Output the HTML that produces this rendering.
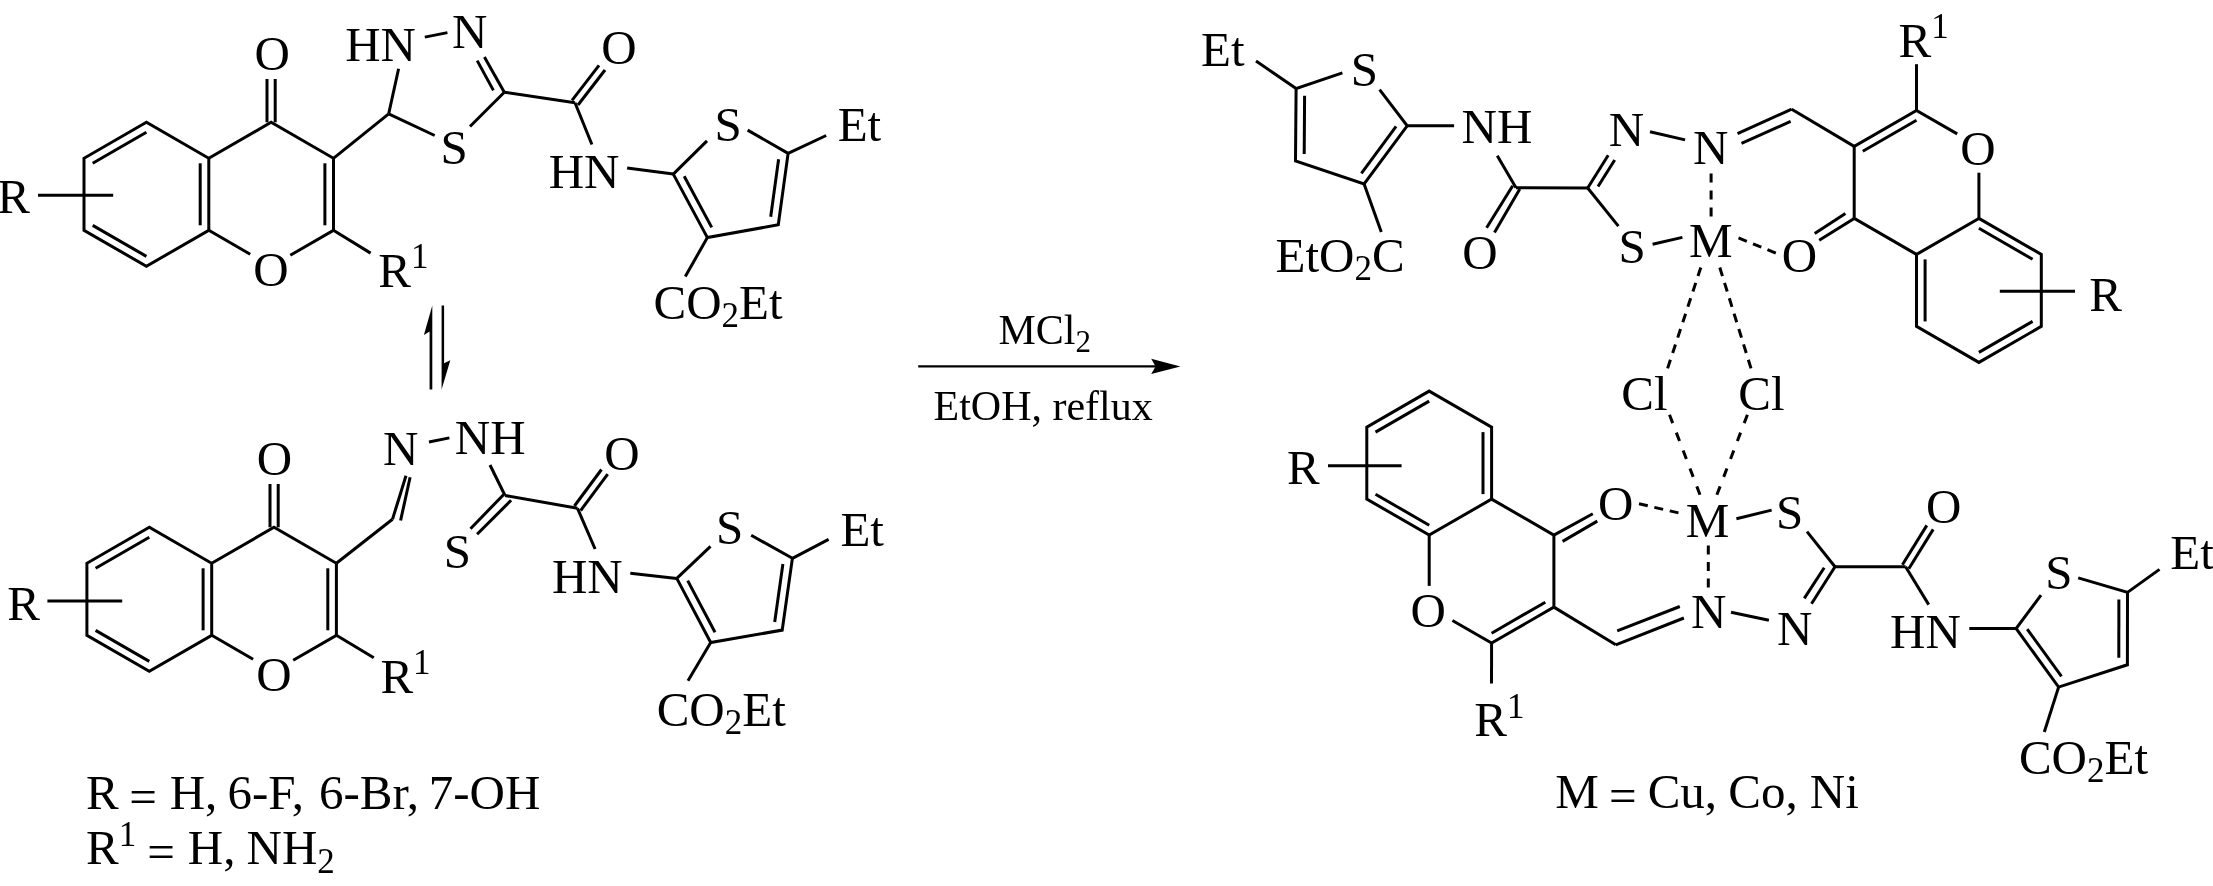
<!DOCTYPE html>
<html><head><meta charset="utf-8"><style>
html,body{margin:0;padding:0;background:#fff;width:2213px;height:886px;overflow:hidden}
svg{position:absolute;left:0;top:0;will-change:transform}
#w{position:absolute;left:0;top:0;width:2213px;height:886px;}
</style></head><body><div id="w">
<svg width="2213" height="886" viewBox="0 0 2213 886">
<g stroke="#000" stroke-width="3.0" fill="none" stroke-linejoin="miter" stroke-linecap="butt">
<path d="M146.4 122.3 L84.0 158.3 L84.0 230.3 L146.4 266.3 L208.8 230.3 L208.8 158.3 L146.4 122.3 Z"/>
<line x1="92.7" y1="163.2" x2="146.4" y2="132.2"/>
<line x1="92.7" y1="225.4" x2="146.4" y2="256.4"/>
<line x1="200.2" y1="163.3" x2="200.2" y2="225.3"/>
<path d="M208.8 158.3 L271.1 122.3 L333.5 158.3 L333.5 230.3 L290.3 255.2"/>
<line x1="208.8" y1="230.3" x2="250.2" y2="254.2"/>
<line x1="324.9" y1="163.3" x2="324.9" y2="225.3"/>
<line x1="38.0" y1="195.3" x2="113.2" y2="195.3"/>
<line x1="267.0" y1="79.0" x2="267.0" y2="122.3"/>
<line x1="275.2" y1="79.0" x2="275.2" y2="122.3"/>
<line x1="333.4" y1="158.3" x2="388.7" y2="113.8"/>
<line x1="388.7" y1="113.8" x2="398.6" y2="68.7"/>
<line x1="388.7" y1="113.8" x2="434.7" y2="135.5"/>
<line x1="333.4" y1="230.3" x2="370.6" y2="253.1"/>
<line x1="424.8" y1="37.1" x2="447.4" y2="32.6"/>
<line x1="484.4" y1="57.0" x2="504.3" y2="92.2"/>
<line x1="477.2" y1="60.6" x2="493.4" y2="90.4"/>
<line x1="504.3" y1="92.2" x2="470.0" y2="126.5"/>
<line x1="504.3" y1="92.2" x2="575.0" y2="102.7"/>
<line x1="578.0" y1="105.0" x2="605.0" y2="70.0"/>
<line x1="572.0" y1="100.4" x2="599.0" y2="65.4"/>
<line x1="575.0" y1="102.7" x2="591.9" y2="144.5"/>
<line x1="627.1" y1="168.0" x2="673.3" y2="174.1"/>
<path d="M707.0 140.9 L673.3 174.1 L707.4 237.6 L778.3 224.8 L788.1 153.4 L747.6 130.1"/>
<line x1="684.2" y1="176.2" x2="711.7" y2="227.4"/>
<line x1="770.7" y1="216.7" x2="778.6" y2="159.2"/>
<line x1="788.1" y1="153.4" x2="826.2" y2="135.5"/>
<line x1="707.4" y1="237.6" x2="685.3" y2="276.4"/>
<polygon points="432.3,305.5 432.3,389.4 429.6,389.4 429.6,331.6 423.9,335.0" fill="#000" stroke="none"/>
<polygon points="441.6,305.5 444.1,305.5 444.1,363.3 450.3,360.2 441.6,389.4" fill="#000" stroke="none"/>
<path d="M149.3 527.3 L86.9 563.3 L86.9 635.3 L149.3 671.3 L211.7 635.3 L211.7 563.3 L149.3 527.3 Z"/>
<line x1="95.6" y1="568.2" x2="149.3" y2="537.2"/>
<line x1="95.6" y1="630.4" x2="149.3" y2="661.4"/>
<line x1="203.1" y1="568.3" x2="203.1" y2="630.3"/>
<path d="M211.7 563.3 L274.0 527.3 L336.4 563.3 L336.4 635.3 L293.2 660.2"/>
<line x1="211.7" y1="635.3" x2="253.1" y2="659.2"/>
<line x1="327.8" y1="568.3" x2="327.8" y2="630.3"/>
<line x1="47.4" y1="601.1" x2="122.2" y2="601.1"/>
<line x1="270.0" y1="484.0" x2="270.0" y2="527.3"/>
<line x1="278.2" y1="484.0" x2="278.2" y2="527.3"/>
<line x1="336.4" y1="635.3" x2="373.8" y2="657.8"/>
<line x1="336.4" y1="563.3" x2="392.5" y2="519.2"/>
<line x1="392.5" y1="519.2" x2="406.0" y2="475.8"/>
<line x1="400.6" y1="520.5" x2="410.1" y2="477.2"/>
<line x1="429.0" y1="442.0" x2="449.4" y2="437.9"/>
<line x1="490.0" y1="465.0" x2="505.0" y2="495.5"/>
<line x1="503.5" y1="494.7" x2="470.5" y2="528.7"/>
<line x1="511.1" y1="500.3" x2="477.1" y2="534.3"/>
<line x1="505.0" y1="495.5" x2="577.5" y2="508.3"/>
<line x1="580.6" y1="510.6" x2="607.7" y2="474.1"/>
<line x1="574.4" y1="506.0" x2="601.5" y2="469.5"/>
<line x1="577.5" y1="508.3" x2="595.1" y2="549.0"/>
<line x1="630.3" y1="573.3" x2="676.8" y2="578.4"/>
<path d="M710.5 546.3 L676.8 578.4 L710.7 642.5 L782.2 630.1 L792.4 558.3 L751.2 535.3"/>
<line x1="687.7" y1="580.6" x2="715.0" y2="632.3"/>
<line x1="774.7" y1="622.0" x2="782.9" y2="564.0"/>
<line x1="792.4" y1="558.3" x2="828.6" y2="539.4"/>
<line x1="710.7" y1="642.5" x2="688.0" y2="680.7"/>
<line x1="918.2" y1="366.4" x2="1157.0" y2="366.4" stroke-width="2.4"/>
<polygon points="1180.4,366.4 1151.2,358.8 1155.6,366.4 1151.2,374.0" fill="#000" stroke="none"/>
<line x1="1256.0" y1="61.0" x2="1296.1" y2="88.6"/>
<path d="M1379.6 89.7 L1407.2 125.8 L1364.1 184.0 L1295.5 161.0 L1296.1 88.6 L1342.4 72.8"/>
<line x1="1396.1" y1="126.3" x2="1361.4" y2="173.3"/>
<line x1="1304.2" y1="154.1" x2="1304.6" y2="95.7"/>
<line x1="1407.2" y1="125.8" x2="1454.1" y2="125.8"/>
<line x1="1364.1" y1="184.0" x2="1381.3" y2="232.0"/>
<line x1="1497.3" y1="155.8" x2="1516.0" y2="187.7"/>
<line x1="1512.7" y1="185.8" x2="1486.6" y2="227.7"/>
<line x1="1519.8" y1="189.0" x2="1494.5" y2="232.4"/>
<line x1="1516.0" y1="187.7" x2="1587.7" y2="188.0"/>
<line x1="1587.7" y1="188.0" x2="1608.2" y2="155.3"/>
<line x1="1598.0" y1="186.5" x2="1614.7" y2="160.0"/>
<line x1="1587.7" y1="188.0" x2="1618.4" y2="226.1"/>
<line x1="1652.6" y1="244.2" x2="1682.4" y2="237.4"/>
<line x1="1650.0" y1="131.8" x2="1685.1" y2="139.9"/>
<line x1="1711.1" y1="173.5" x2="1711.1" y2="216.4" stroke-dasharray="9.00 7.95"/>
<line x1="1737.5" y1="133.6" x2="1791.7" y2="109.2"/>
<line x1="1741.5" y1="143.4" x2="1790.6" y2="121.4"/>
<line x1="1791.7" y1="109.2" x2="1854.2" y2="146.4"/>
<path d="M1916.5 254.4 L1854.2 218.4 L1854.2 146.4 L1916.5 110.4 L1957.2 133.9"/>
<line x1="1978.9" y1="218.4" x2="1978.9" y2="172.7"/>
<line x1="1862.8" y1="151.3" x2="1916.5" y2="120.3"/>
<line x1="1916.5" y1="110.4" x2="1916.5" y2="64.2"/>
<line x1="1854.2" y1="218.4" x2="1819.2" y2="240.2"/>
<line x1="1845.4" y1="213.5" x2="1814.7" y2="233.4"/>
<path d="M1978.9 218.4 L2041.3 254.4 L2041.3 326.4 L1978.9 362.4 L1916.5 326.4 L1916.5 254.4 L1978.9 218.4 Z"/>
<line x1="1978.9" y1="228.3" x2="2032.6" y2="259.3"/>
<line x1="1925.1" y1="259.4" x2="1925.1" y2="321.4"/>
<line x1="1978.9" y1="352.4" x2="2032.6" y2="321.4"/>
<line x1="1999.8" y1="291.3" x2="2075.0" y2="291.3"/>
<line x1="1738.5" y1="237.9" x2="1775.8" y2="253.1" stroke-dasharray="9.00 6.64"/>
<line x1="1700.8" y1="267.5" x2="1667.6" y2="368.4" stroke-dasharray="9.00 7.20"/>
<line x1="1719.8" y1="267.5" x2="1751.0" y2="368.4" stroke-dasharray="9.00 7.10"/>
<line x1="1669.5" y1="414.7" x2="1700.0" y2="494.8" stroke-dasharray="9.00 10.18"/>
<line x1="1747.4" y1="414.7" x2="1716.9" y2="494.8" stroke-dasharray="9.00 10.18"/>
<path d="M1429.2 391.1 L1491.6 427.1 L1491.6 499.1 L1429.2 535.1 L1366.8 499.1 L1366.8 427.1 L1429.2 391.1 Z"/>
<line x1="1375.5" y1="432.1" x2="1429.2" y2="401.1"/>
<line x1="1483.0" y1="432.1" x2="1483.0" y2="494.1"/>
<line x1="1375.5" y1="494.2" x2="1429.2" y2="525.2"/>
<line x1="1328.0" y1="465.7" x2="1401.6" y2="465.7"/>
<line x1="1429.2" y1="535.1" x2="1429.2" y2="585.9"/>
<path d="M1491.6 499.1 L1553.9 535.1 L1553.9 607.1 L1491.6 643.1 L1452.4 620.5"/>
<line x1="1545.3" y1="602.2" x2="1491.6" y2="633.2"/>
<line x1="1553.9" y1="535.1" x2="1592.8" y2="513.8"/>
<line x1="1562.6" y1="541.4" x2="1597.3" y2="521.1"/>
<line x1="1639.0" y1="503.8" x2="1678.5" y2="512.9" stroke-dasharray="9.00 6.77"/>
<line x1="1736.4" y1="518.8" x2="1771.6" y2="510.1"/>
<line x1="1807.0" y1="531.6" x2="1835.0" y2="566.8"/>
<line x1="1835.0" y1="566.8" x2="1811.5" y2="603.8"/>
<line x1="1824.2" y1="567.7" x2="1804.3" y2="598.4"/>
<line x1="1731.0" y1="612.2" x2="1768.9" y2="620.3"/>
<line x1="1708.3" y1="545.6" x2="1708.3" y2="587.4" stroke-dasharray="9.00 7.40"/>
<line x1="1553.9" y1="607.1" x2="1615.8" y2="644.8"/>
<line x1="1615.8" y1="644.8" x2="1683.9" y2="618.0"/>
<line x1="1617.2" y1="630.9" x2="1679.8" y2="606.5"/>
<line x1="1491.6" y1="643.1" x2="1491.5" y2="683.5"/>
<line x1="1835.0" y1="566.8" x2="1905.6" y2="566.8"/>
<line x1="1908.8" y1="568.7" x2="1933.2" y2="529.4"/>
<line x1="1902.4" y1="564.7" x2="1926.8" y2="525.4"/>
<line x1="1905.6" y1="566.7" x2="1928.7" y2="604.6"/>
<line x1="1969.3" y1="628.5" x2="2016.1" y2="628.5"/>
<path d="M2041.0 595.1 L2016.1 628.5 L2058.6 687.1 L2127.4 664.8 L2127.5 592.4 L2078.2 577.9"/>
<line x1="2027.2" y1="629.1" x2="2061.5" y2="676.4"/>
<line x1="2118.8" y1="657.8" x2="2118.9" y2="599.4"/>
<line x1="2127.5" y1="592.4" x2="2159.5" y2="569.4"/>
<line x1="2058.6" y1="687.1" x2="2044.3" y2="732.0"/>
</g>
<g font-family="'Liberation Serif', serif" fill="#000">
<text transform="translate(-2.80 213.45) scale(1 1.012)" font-size="49">R</text>
<text transform="translate(254.50 69.85) scale(1 1.012)" font-size="49">O</text>
<text transform="translate(253.30 286.15) scale(1 1.012)" font-size="49">O</text>
<text transform="translate(378.25 286.70) scale(1 1.012)" font-size="49">R<tspan font-size="35" dy="-18.6">1</tspan></text>
<text transform="translate(345.20 60.80) scale(1 1.012)" font-size="49">HN</text>
<text transform="translate(451.95 47.95) scale(1 1.012)" font-size="49">N</text>
<text transform="translate(440.50 164.25) scale(1 1.012)" font-size="49">S</text>
<text transform="translate(601.20 64.15) scale(1 1.012)" font-size="49">O</text>
<text transform="translate(548.70 187.95) scale(1 1.012)" font-size="49">HN</text>
<text transform="translate(714.45 140.95) scale(1 1.012)" font-size="49">S</text>
<text transform="translate(837.70 141.20) scale(1 1.012)" font-size="49">Et</text>
<text transform="translate(653.55 318.80) scale(1 1.012)" font-size="49">CO<tspan font-size="35" dy="8.3">2</tspan><tspan dy="-8.3">Et</tspan></text>
<text transform="translate(7.35 620.45) scale(1 1.012)" font-size="49">R</text>
<text transform="translate(256.85 475.45) scale(1 1.012)" font-size="49">O</text>
<text transform="translate(256.25 691.45) scale(1 1.012)" font-size="49">O</text>
<text transform="translate(380.40 693.30) scale(1 1.012)" font-size="49">R<tspan font-size="35" dy="-18.6">1</tspan></text>
<text transform="translate(383.10 465.35) scale(1 1.012)" font-size="49">N</text>
<text transform="translate(454.85 453.55) scale(1 1.012)" font-size="49">NH</text>
<text transform="translate(443.70 567.85) scale(1 1.012)" font-size="49">S</text>
<text transform="translate(604.15 469.85) scale(1 1.012)" font-size="49">O</text>
<text transform="translate(551.95 592.55) scale(1 1.012)" font-size="49">HN</text>
<text transform="translate(716.05 544.40) scale(1 1.012)" font-size="49">S</text>
<text transform="translate(840.45 546.20) scale(1 1.012)" font-size="49">Et</text>
<text transform="translate(656.70 725.50) scale(1 1.012)" font-size="49">CO<tspan font-size="35" dy="8.3">2</tspan><tspan dy="-8.3">Et</tspan></text>
<text transform="translate(998.50 343.90) scale(1 1.012)" font-size="42">MCl<tspan font-size="31" dy="8">2</tspan></text>
<text transform="translate(1201.05 66.40) scale(1 1.012)" font-size="49">Et</text>
<text transform="translate(1350.70 86.30) scale(1 1.012)" font-size="49">S</text>
<text transform="translate(1275.55 271.55) scale(1 1.012)" font-size="49">EtO<tspan font-size="35" dy="8.3">2</tspan><tspan dy="-8.3">C</tspan></text>
<text transform="translate(1461.55 143.25) scale(1 1.012)" font-size="49">NH</text>
<text transform="translate(1462.35 268.60) scale(1 1.012)" font-size="49">O</text>
<text transform="translate(1608.65 145.55) scale(1 1.012)" font-size="49">N</text>
<text transform="translate(1618.40 262.65) scale(1 1.012)" font-size="49">S</text>
<text transform="translate(1689.05 256.80) scale(1 1.012)" font-size="49">M</text>
<text transform="translate(1693.05 164.40) scale(1 1.012)" font-size="49">N</text>
<text transform="translate(1898.50 56.60) scale(1 1.012)" font-size="49">R<tspan font-size="35" dy="-18.6">1</tspan></text>
<text transform="translate(1960.30 165.20) scale(1 1.012)" font-size="49">O</text>
<text transform="translate(1781.80 271.58) scale(1 1.012)" font-size="49">O</text>
<text transform="translate(2089.25 310.85) scale(1 1.012)" font-size="49">R</text>
<text transform="translate(1621.30 410.30) scale(1 1.012)" font-size="49">Cl</text>
<text transform="translate(1738.25 410.30) scale(1 1.012)" font-size="49">Cl</text>
<text transform="translate(1287.10 484.35) scale(1 1.012)" font-size="49">R</text>
<text transform="translate(1410.55 626.55) scale(1 1.012)" font-size="49">O</text>
<text transform="translate(1598.05 519.65) scale(1 1.012)" font-size="49">O</text>
<text transform="translate(1685.80 536.80) scale(1 1.012)" font-size="49">M</text>
<text transform="translate(1776.10 528.55) scale(1 1.012)" font-size="49">S</text>
<text transform="translate(1777.10 645.40) scale(1 1.012)" font-size="49">N</text>
<text transform="translate(1691.10 627.75) scale(1 1.012)" font-size="49">N</text>
<text transform="translate(1474.25 736.45) scale(1 1.012)" font-size="49">R<tspan font-size="35" dy="-18.6">1</tspan></text>
<text transform="translate(1925.95 523.45) scale(1 1.012)" font-size="49">O</text>
<text transform="translate(1890.10 647.95) scale(1 1.012)" font-size="49">HN</text>
<text transform="translate(2045.30 589.10) scale(1 1.012)" font-size="49">S</text>
<text transform="translate(2170.25 569.30) scale(1 1.012)" font-size="49">Et</text>
<text transform="translate(2018.90 773.65) scale(1 1.012)" font-size="49">CO<tspan font-size="35" dy="8.3">2</tspan><tspan dy="-8.3">Et</tspan></text>
<text transform="translate(86.10 808.60) scale(1 1.012)" font-size="49">R</text>
<text transform="translate(129.20 812.60) scale(1 1.012)" font-size="49">=</text>
<text transform="translate(169.70 808.60) scale(1 1.012)" font-size="49">H,</text>
<text transform="translate(227.50 808.60) scale(1 1.012)" font-size="49">6-F,</text>
<text transform="translate(319.00 808.60) scale(1 1.012)" font-size="49">6-Br,</text>
<text transform="translate(428.70 808.60) scale(1 1.012)" font-size="49">7-OH</text>
<text transform="translate(86.10 864.40) scale(1 1.012)" font-size="49">R<tspan font-size="35" dy="-18.6">1</tspan></text>
<text transform="translate(147.20 868.40) scale(1 1.012)" font-size="49">=</text>
<text transform="translate(187.80 864.40) scale(1 1.012)" font-size="49">H,</text>
<text transform="translate(246.50 864.40) scale(1 1.012)" font-size="49">NH<tspan font-size="35" dy="8">2</tspan></text>
<text transform="translate(933.50 420.00) scale(1 1.012)" font-size="42">EtOH, reflux</text>
<text transform="translate(1555.30 808.10) scale(1 1.012)" font-size="49">M</text>
<text transform="translate(1609.00 812.10) scale(1 1.012)" font-size="49">=</text>
<text transform="translate(1647.70 808.10) scale(1 1.012)" font-size="49">Cu,</text>
<text transform="translate(1728.30 808.10) scale(1 1.012)" font-size="49">Co,</text>
<text transform="translate(1809.80 808.10) scale(1 1.012)" font-size="49">Ni</text>
</g>
</svg></div></body></html>
